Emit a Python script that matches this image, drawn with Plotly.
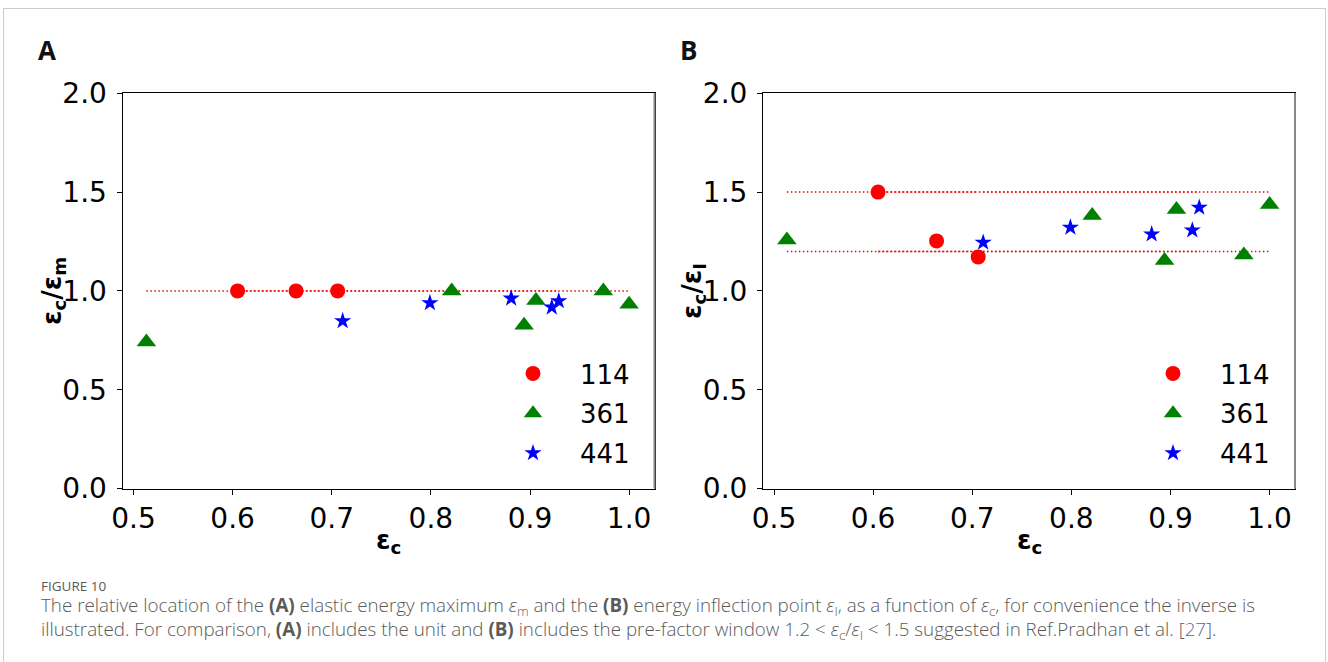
import plotly.graph_objects as go

# ---------------- data ----------------
eps_c_114 = [0.605, 0.664, 0.706]
ratio_m_114 = [1.0, 1.0, 1.0]
ratio_I_114 = [1.50, 1.253, 1.172]

eps_c_361 = [0.513, 0.821, 0.894, 0.906, 0.974, 1.0]
ratio_m_361 = [0.741, 1.0, 0.826, 0.952, 1.0, 0.932]
ratio_I_361 = [1.258, 1.382, 1.154, 1.412, 1.182, 1.437]

eps_c_441 = [0.711, 0.799, 0.881, 0.922, 0.929]
ratio_m_441 = [0.848, 0.939, 0.962, 0.917, 0.949]
ratio_I_441 = [1.245, 1.321, 1.287, 1.307, 1.422]

series_names = ["114", "361", "441"]
ref_level_A = [1.0]
ref_levels_B = [1.2, 1.5]

x_ticks = [0.5, 0.6, 0.7, 0.8, 0.9, 1.0]
y_ticks = [0.0, 0.5, 1.0, 1.5, 2.0]

# ---------------- layout constants ----------------
W, H = 1328, 662
def px_x(x):
    return x / W
def px_y(y):
    return 1 - y / H

colors = ["#ff0000", "#008000", "#0000ff"]
symbols = ["circle", "triangle-up", "star"]
msizes = [15, 17, 13]

xs = [eps_c_114, eps_c_361, eps_c_441]
ysA = [ratio_m_114, ratio_m_361, ratio_m_441]
ysB = [ratio_I_114, ratio_I_361, ratio_I_441]

fig = go.Figure()

dot_line = dict(color="#ff0000", width=1.5, dash="1.5px,2.5px")
# reference dotted lines (one per data set spanning its range)
for xv in xs:
    for lvl in ref_level_A:
        fig.add_trace(go.Scatter(x=[min(xv), max(xv)], y=[lvl, lvl], mode="lines",
                                 line=dot_line, showlegend=False, hoverinfo="skip",
                                 xaxis="x", yaxis="y"))
    for lvl in ref_levels_B:
        fig.add_trace(go.Scatter(x=[min(xv), max(xv)], y=[lvl, lvl], mode="lines",
                                 line=dot_line, showlegend=False, hoverinfo="skip",
                                 xaxis="x2", yaxis="y2"))

for i in range(3):
    fig.add_trace(go.Scatter(x=xs[i], y=ysA[i], mode="markers", name=series_names[i],
                             marker=dict(color=colors[i], symbol=symbols[i], size=msizes[i], line=dict(width=0)),
                             xaxis="x", yaxis="y", legend="legend", legendgroup="a" + series_names[i]))
for i in range(3):
    fig.add_trace(go.Scatter(x=xs[i], y=ysB[i], mode="markers", name=series_names[i],
                             marker=dict(color=colors[i], symbol=symbols[i], size=msizes[i], line=dict(width=0)),
                             xaxis="x2", yaxis="y2", legend="legend2", legendgroup="b" + series_names[i]))

tickfont = dict(family="DejaVu Sans", size=28, color="#000000")
xr = [0.4889, 1.0256]
axis_common = dict(showgrid=False, zeroline=False, showline=True, linecolor="#000000", linewidth=1,
                   mirror=True, ticks="outside", ticklen=5, tickwidth=1, tickcolor="#000000",
                   tickfont=tickfont, automargin=False)

ydom = [px_y(488.5), px_y(93.3)]
legend_font = dict(family="DejaVu Sans", size=26, color="#000000")
fig.update_layout(
    width=W, height=H,
    margin=dict(l=0, r=0, t=0, b=0, pad=0, autoexpand=False),
    paper_bgcolor="white", plot_bgcolor="white",
    xaxis=dict(domain=[px_x(122.5), px_x(654.5)], range=xr, tickvals=x_ticks,
               ticktext=[f"{v:.1f}" for v in x_ticks], anchor="y", **axis_common),
    yaxis=dict(domain=ydom, range=[0, 2], tickvals=y_ticks, ticklabelstandoff=4,
               ticktext=[f"{v:.1f}" for v in y_ticks], anchor="x", **axis_common),
    xaxis2=dict(domain=[px_x(763), px_x(1295)], range=xr, tickvals=x_ticks,
                ticktext=[f"{v:.1f}" for v in x_ticks], anchor="y2", **axis_common),
    yaxis2=dict(domain=ydom, range=[0, 2], tickvals=y_ticks, ticklabelstandoff=4,
                ticktext=[f"{v:.1f}" for v in y_ticks], anchor="x2", **axis_common),
    legend=dict(x=px_x(635), y=px_y(477), xanchor="right", yanchor="bottom",
                font=legend_font, bgcolor="rgba(0,0,0,0)", borderwidth=0,
                itemwidth=84, tracegroupgap=3),
    legend2=dict(x=px_x(1275), y=px_y(477), xanchor="right", yanchor="bottom",
                 font=legend_font, bgcolor="rgba(0,0,0,0)", borderwidth=0,
                 itemwidth=84, tracegroupgap=3),
    showlegend=True,
)

# outer card border and gray right edges of panels
shapes = [
    dict(type="rect", xref="paper", yref="paper", x0=px_x(3.5), x1=px_x(1325.5),
         y0=-0.1, y1=px_y(8.5), line=dict(color="#cccccc", width=1), fillcolor="rgba(0,0,0,0)", layer="below"),
    dict(type="line", xref="x domain", yref="y domain", x0=1, x1=1, y0=0, y1=1,
         line=dict(color="#888888", width=2)),
    dict(type="line", xref="x2 domain", yref="y2 domain", x0=1, x1=1, y0=0, y1=1,
         line=dict(color="#888888", width=2)),
]
fig.update_layout(shapes=shapes)

title_font = dict(family="DejaVu Sans", size=26, color="#000000")
ann = []
# axis titles
ann.append(dict(text="<b>ε<sub>c</sub></b>", x=px_x(388.5), y=px_y(541), xref="paper", yref="paper",
                showarrow=False, font=title_font, xanchor="center", yanchor="middle"))
ann.append(dict(text="<b>ε<sub>c</sub></b>", x=px_x(1029), y=px_y(541), xref="paper", yref="paper",
                showarrow=False, font=title_font, xanchor="center", yanchor="middle"))
ann.append(dict(text="<b>ε<sub>c</sub>/ε<sub>m</sub></b>", x=px_x(53), y=px_y(291), xref="paper", yref="paper",
                showarrow=False, font=title_font, xanchor="center", yanchor="middle", textangle=-90))
ann.append(dict(text="<b>ε<sub>c</sub>/ε<sub>I</sub></b>", x=px_x(693), y=px_y(291), xref="paper", yref="paper",
                showarrow=False, font=title_font, xanchor="center", yanchor="middle", textangle=-90))
# panel letters
letter_font = dict(family="Open Sans", size=26, color="#111111")
ann.append(dict(text="<b>A</b>", x=px_x(46.5), y=px_y(50), xref="paper", yref="paper",
                showarrow=False, font=letter_font, xanchor="center", yanchor="middle"))
ann.append(dict(text="<b>B</b>", x=px_x(688.5), y=px_y(50), xref="paper", yref="paper",
                showarrow=False, font=letter_font, xanchor="center", yanchor="middle"))
# caption
cap_font = dict(family="Open Sans", size=18.8, color="#5a5a5a", weight=300)
ann.append(dict(text="FIGURE 10", x=px_x(39), y=px_y(586), xref="paper", yref="paper",
                showarrow=False, font=dict(family="Open Sans", size=13.5, color="#5a5a5a"),
                xanchor="left", yanchor="middle"))
line1 = ("The relative location of the <b>(A)</b> elastic energy maximum <i>ε</i><sub>m</sub> and the "
         "<b>(B)</b> energy inflection point <i>ε</i><sub>I</sub>, as a function of <i>ε</i><sub>c</sub>, "
         "for convenience the inverse is")
line2 = ("illustrated. For comparison, <b>(A)</b> includes the unit and <b>(B)</b> includes the pre-factor "
         "window 1.2 &lt; <i>ε</i><sub>c</sub>/<i>ε</i><sub>I</sub> &lt; 1.5 suggested in Ref.Pradhan et al. "
         "[<span style='color:#5b5fad'>27</span>].")
ann.append(dict(text=line1 + "<br>" + line2, x=px_x(39), y=px_y(618), xref="paper", yref="paper",
                showarrow=False, font=cap_font, xanchor="left", yanchor="middle", align="left"))
fig.update_layout(annotations=ann)

fig.write_html("out.html")
